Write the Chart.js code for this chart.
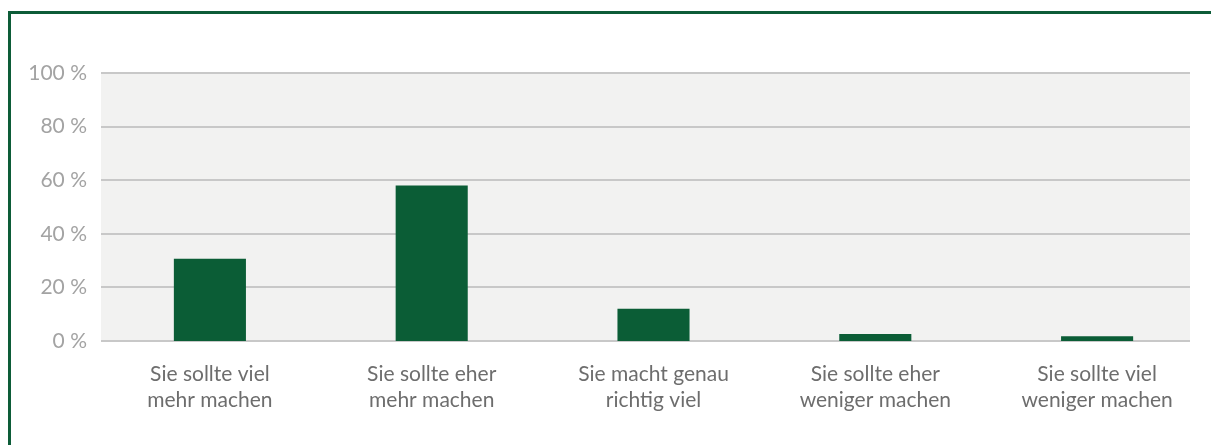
<!DOCTYPE html>
<html>
<head>
<meta charset="utf-8">
<script src="https://cdn.jsdelivr.net/npm/chart.js@4/dist/chart.umd.min.js"></script>
<style>
  html, body { margin: 0; padding: 0; background: #ffffff; overflow: hidden; }
  #wrap { position: relative; width: 1211px; height: 445px; }
  #frame { position: absolute; left: 8px; top: 11px; width: 1300px; height: 500px;
           border-left: 3px solid #0d5c38; border-top: 3px solid #0d5c38; box-sizing: border-box; }
  canvas { position: absolute; left: 0; top: 0; }
</style>
</head>
<body>
<div id="wrap">
  <canvas id="c" width="1211" height="445"></canvas>
  <div id="frame"></div>
</div>
<script>
const categories = [
  ["Sie sollte viel", "mehr machen"],
  ["Sie sollte eher", "mehr machen"],
  ["Sie macht genau", "richtig viel"],
  ["Sie sollte eher", "weniger machen"],
  ["Sie sollte viel", "weniger machen"]
];
const values = [30.7, 58.0, 12.0, 2.6, 1.8];
const yTicks = [0, 20, 40, 60, 80, 100];

const PLOT_LEFT = 101, PLOT_RIGHT = 1190;

const plotBg = {
  id: 'plotBg',
  beforeDatasetsDraw(chart) {
    const a = chart.chartArea, ctx = chart.ctx, ys = chart.scales.y;
    ctx.save();
    ctx.fillStyle = '#f2f2f1';
    ctx.fillRect(PLOT_LEFT, a.top, PLOT_RIGHT - PLOT_LEFT, a.bottom - a.top);
    ctx.strokeStyle = '#c8c8c8';
    ctx.lineWidth = 2;
    yTicks.forEach(v => {
      const y = Math.round(ys.getPixelForValue(v));
      ctx.beginPath();
      ctx.moveTo(PLOT_LEFT, y);
      ctx.lineTo(PLOT_RIGHT, y);
      ctx.stroke();
    });
    ctx.restore();
  }
};

new Chart(document.getElementById('c'), {
  type: 'bar',
  data: {
    labels: categories,
    datasets: [{
      data: values,
      backgroundColor: '#0b5d36',
      borderWidth: 0,
      barPercentage: 0.325,
      categoryPercentage: 1.0
    }]
  },
  options: {
    responsive: false,
    animation: false,
    layout: { padding: { left: 10, right: 3, top: 73, bottom: 0 } },
    plugins: { legend: { display: false }, tooltip: { enabled: false } },
    scales: {
      x: {
        grid: { display: false, drawTicks: false },
        border: { display: false },
        ticks: {
          color: '#6d6d6d',
          font: { family: 'Lato, "Open Sans", sans-serif', size: 21, lineHeight: 1.25 },
          padding: 20,
          maxRotation: 0,
          autoSkip: false
        },
        afterFit(s) { s.height = 104; }
      },
      y: {
        min: 0, max: 100,
        afterBuildTicks(s) { s.ticks = yTicks.map(v => ({ value: v })); },
        grid: { display: false, drawTicks: false },
        border: { display: false },
        ticks: {
          color: '#a3a3a3',
          font: { family: 'Lato, "Open Sans", sans-serif', size: 21 },
          padding: 12,
          callback: v => v + ' %'
        },
        afterFit(s) { s.width = 89; }
      }
    }
  },
  plugins: [plotBg]
});
</script>
</body>
</html>
